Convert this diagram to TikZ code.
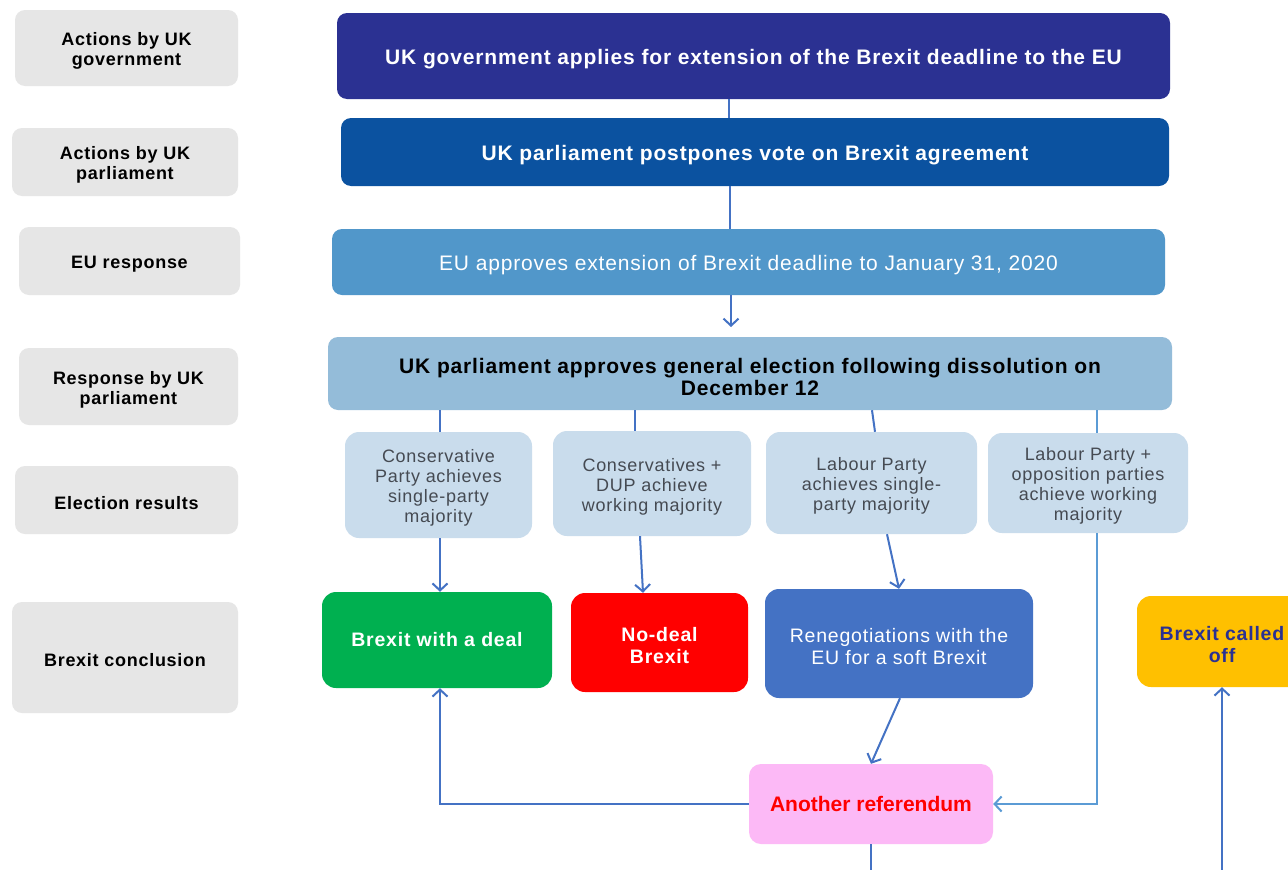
\documentclass[tikz,border=0pt]{standalone}
\usepackage{fontspec}
\setmainfont{Liberation Sans}[LetterSpace=4]
\newfontfamily\tightfont{Liberation Sans}
\usetikzlibrary{arrows.meta}

\definecolor{lblgray}{HTML}{E6E6E6}
\definecolor{govblue}{HTML}{2B3192}
\definecolor{parlblue}{HTML}{0B52A0}
\definecolor{eublue}{HTML}{5197CA}
\definecolor{respblue}{HTML}{94BCD9}
\definecolor{resultblue}{HTML}{C9DCEC}
\definecolor{resulttext}{HTML}{454A52}
\definecolor{dealgreen}{HTML}{00B050}
\definecolor{nodealred}{HTML}{FF0000}
\definecolor{softblue}{HTML}{4472C4}
\definecolor{offyellow}{HTML}{FFC000}
\definecolor{refpink}{HTML}{FCB9F6}
\definecolor{linkblue}{HTML}{4472C4}
\definecolor{lightlink}{HTML}{5B9BD5}

% a tall invisible strut on the first line sets the text a little lower in its box
\newcommand\tallstrut{\rule{0pt}{1.05em}}

\tikzset{
  lowtext/.style={execute at begin node={\tallstrut}},
  rowlabel/.style={fill=lblgray, rounded corners=10pt, align=center,
    font=\fontsize{18}{20}\selectfont\bfseries, text=black},
  bar/.style={rounded corners=10pt, align=center, text=white,
    font=\fontsize{21}{22.5}\selectfont\bfseries},
  result/.style={fill=resultblue, rounded corners=14pt, align=center,
    text=resulttext, font=\fontsize{18}{20}\selectfont},
  outcome/.style={rounded corners=14pt, align=center, text=white,
    font=\fontsize{19.5}{21.5}\selectfont\bfseries},
  link/.style={draw=linkblue, line width=2pt},
  linkarrow/.style={link, -{Straight Barb[length=7pt,width=15pt,line width=2pt]}},
}

\begin{document}
\begin{tikzpicture}[x=1pt,y=-1pt]
\clip (0,0) rectangle (1288,870);
\fill[white] (0,0) rectangle (1288,870);

% row labels on the left
\node[rowlabel, minimum width=223, minimum height=76] (l1) at (126.5,48) {\tallstrut Actions by UK\\government};
\node[rowlabel, minimum width=226, minimum height=68] (l2) at (125,162) {\tallstrut Actions by UK\\parliament};
\node[rowlabel, lowtext, minimum width=221, minimum height=68] (l3) at (129.5,261) {EU response};
\node[rowlabel, minimum width=219, minimum height=77] (l4) at (128.5,386.5) {\tallstrut Response by UK\\parliament};
\node[rowlabel, lowtext, minimum width=223, minimum height=68] (l5) at (126.5,500) {Election results};
\node[rowlabel, lowtext, minimum width=226, minimum height=111] (l6) at (125,657.5) {Brexit conclusion};

% sequence of events
\node[bar, lowtext, fill=govblue, minimum width=833, minimum height=86] (gov) at (753.5,56)
  {UK government applies for extension of the Brexit deadline to the EU};
\node[bar, lowtext, fill=parlblue, minimum width=828, minimum height=68] (parl) at (755,152)
  {UK parliament postpones vote on Brexit agreement};
\node[bar, lowtext, fill=eublue, minimum width=833, minimum height=66, font=\fontsize{21}{22.5}\selectfont] (eu) at (748.5,262)
  {EU approves extension of Brexit deadline to January 31, 2020};
\node[bar, fill=respblue, text=black, minimum width=844, minimum height=73] (resp) at (750,373.5)
  {\tallstrut UK parliament approves general election following dissolution on\\December 12};

% election results
\node[result, minimum width=187, minimum height=106] (r1) at (438.5,485) {\tallstrut Conservative\\Party achieves\\single-party\\majority};
\node[result, minimum width=198, minimum height=105] (r2) at (652,483.5) {\tallstrut Conservatives +\\DUP achieve\\working majority};
\node[result, minimum width=211, minimum height=102] (r3) at (871.5,483) {\tallstrut Labour Party\\achieves single-\\party majority};
\node[result, minimum width=200, minimum height=100] (r4) at (1088,483) {\tallstrut Labour Party +\\opposition parties\\achieve working\\majority};

% conclusions
\node[outcome, fill=dealgreen, minimum width=230, minimum height=96] (deal) at (437,640) {Brexit with a deal};
\node[outcome, fill=nodealred, minimum width=177, minimum height=99] (nodeal) at (659.5,642.5) {\tallstrut No-deal\\Brexit};
\node[outcome, fill=softblue, minimum width=268, minimum height=109, font=\fontsize{19.5}{21.5}\selectfont] (soft) at (899,643.5) {\tallstrut Renegotiations with the\\EU for a soft Brexit};
\node[outcome, fill=offyellow, text=govblue, minimum width=170, minimum height=91] (off) at (1222,641.5) {\tallstrut Brexit called\\off};
\node[outcome, fill=refpink, text=nodealred, rounded corners=12pt, minimum width=244, minimum height=80,
  font=\tightfont\fontsize{21}{24}\selectfont\bfseries] (ref) at (871,804) {Another referendum};

% connectors
\coordinate (refout) at (871,870);
\coordinate (offin) at (1222,870);
\draw[link] (gov.south -| 729,0) -- (parl.north -| 729,0);
\draw[link] (parl.south -| 730,0) -- (eu.north -| 730,0);
\draw[linkarrow] (eu.south -| 731,0) -- (731,327);

\draw[link] (resp.south -| 440,0) -- (r1.north -| 440,0);
\draw[link] (resp.south -| 635,0) -- (r2.north -| 635,0);
\draw[link] (resp.south -| 872,0) -- (r3.north -| 875,0);
\draw[link, draw=lightlink] (resp.south -| 1097,0) -- (r4.north -| 1097,0);

\draw[linkarrow] (r1.south -| 440,0) -- (deal.north -| 440,0);
\draw[linkarrow] (r2.south -| 640,0) -- (nodeal.north -| 643,0);
\draw[linkarrow] (r3.south -| 887,0) -- (soft.north -| 899,0);
\draw[linkarrow, draw=lightlink] (r4.south -| 1097,0) |- (ref.east);

\draw[linkarrow] (soft.south -| 900,0) -- (ref.north);
\draw[linkarrow] (ref.west) -| (deal.south -| 440,0);
\draw[link] (ref.south) -- (refout);
\draw[linkarrow] (offin) -- (off.south);
\end{tikzpicture}
\end{document}
